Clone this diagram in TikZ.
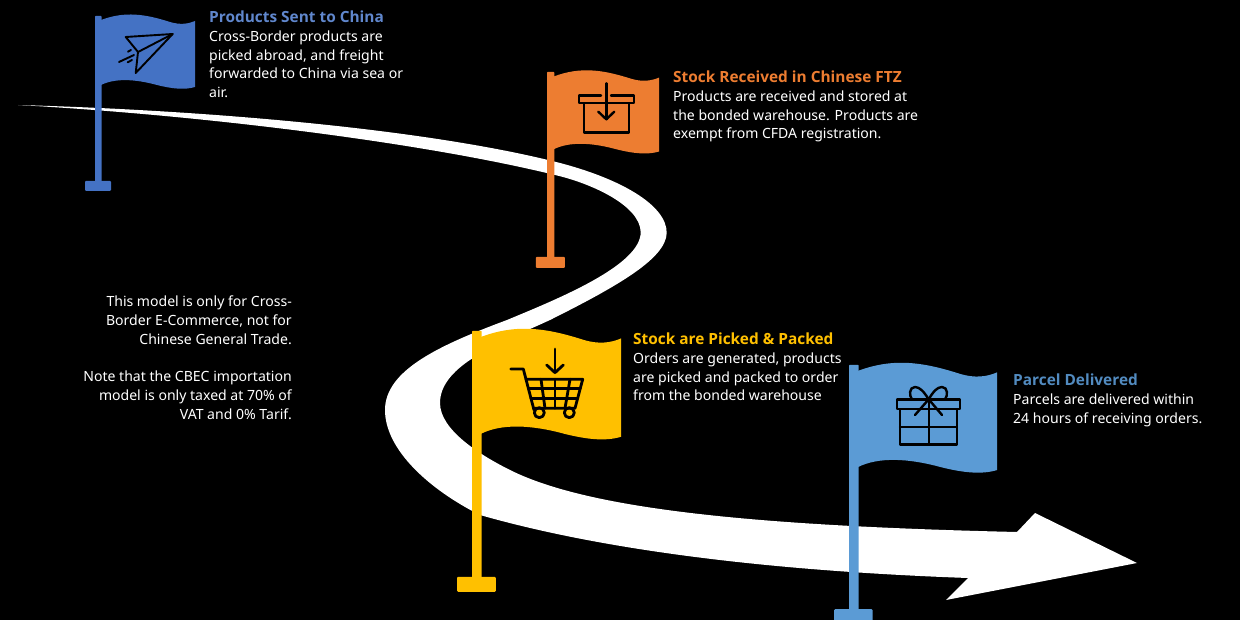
\documentclass[tikz,border=0pt]{standalone}
\usepackage{fontspec}
\setmainfont{Noto Sans}
\newfontfamily\titlefont{Open Sans}
\definecolor{flagblue}{HTML}{4472C4}
\definecolor{flagorange}{HTML}{ED7D31}
\definecolor{flagyellow}{HTML}{FFC000}
\definecolor{flagsky}{HTML}{5B9BD5}
\colorlet{titleblue}{flagblue!85!white}
\colorlet{titlesky}{flagsky!90!black}
\tikzset{
	flag/.pic={
		\fill[pic actions, rounded corners=0.6] (0,0) rectangle (6.5,168);
		\fill[pic actions, rounded corners=1] (-10,165) rectangle (16,175);
		\fill[pic actions] (6,4) .. controls (30,-5) and (50,-2) .. (75,6) .. controls (85,9) and (93,8) .. (100,5)
			-- (100,71) .. controls (90,74) and (78,73) .. (62,69) .. controls (40,63) and (20,62) .. (6,69) -- cycle;
	},
	infotext/.style={anchor=north west, inner sep=0pt, align=left, text=white, font=\fontsize{14.05}{18.8}\selectfont},
	notetext/.style={anchor=north east, inner sep=0pt, align=right, text=white, font=\fontsize{14.05}{18.8}\selectfont},
	titletext/.style={anchor=west, inner sep=0pt, font=\titlefont\bfseries\fontsize{15.4}{18}\selectfont},
	icon/.style={draw=black, line width=2.4pt, line join=round, line cap=round},
}
\begin{document}
\begin{tikzpicture}[x=1pt, y=-1pt]
	\useasboundingbox (0,0) rectangle (1240,620);
	\fill[black] (0,0) rectangle (1240,620);
	\clip (0,0) rectangle (1240,620);

	% road
	\fill[white] (18,105) .. controls (200,110) and (420,128) .. (555,161.7)
		.. controls (620,178) and (667,205) .. (666.7,233)
		.. controls (666,258) and (620,285) .. (550,320)
		.. controls (500,343) and (440,365) .. (440,403)
		.. controls (440,430) and (480,455) .. (510,470)
		.. controls (590,510) and (760,526) .. (1017,532)
		-- (1035,513) -- (1137,563) -- (946,600) -- (968,578)
		.. controls (800,572) and (620,555) .. (480,515)
		.. controls (430,490) and (385,450) .. (385,410)
		.. controls (385,370) and (440,345) .. (507,320)
		.. controls (560,298) and (641,265) .. (640.7,232)
		.. controls (640,205) and (590,183) .. (555,175)
		.. controls (420,142) and (200,115) .. (18,105) -- cycle;

	% flags
	\pic[fill=flagblue] at (95,16) {flag};
	\pic[fill=flagorange, scale=1.12] at (547,72) {flag};
	\pic[fill=flagyellow, scale=1.49] at (472,331) {flag};
	\pic[fill=flagsky, scale=1.48] at (849,365) {flag};

	% paper plane
	\begin{scope}[icon/.append style={line width=1.9pt}]
		\draw[icon] (125.7,37) -- (172.7,34) -- (135.7,73) -- (138,52) -- cycle;
		\draw[icon] (172.7,34) -- (138,52);
		\draw[icon] (119,62) -- (134,55);
		\draw[icon] (127.7,62.3) -- (132,60);
		\draw[icon] (128,51.7) -- (131,50);
	\end{scope}

	% box
	\draw[icon] (601,95.7) -- (579,95.7) -- (579,103.3) -- (634,103.3) -- (634,95.7) -- (611,95.7);
	\draw[icon] (584,103.3) -- (584,132.7) -- (628.7,132.7) -- (628.7,103.3);
	\draw[icon] (606.3,83.3) -- (606.3,119.3);
	\draw[icon] (598.3,111.7) -- (606.3,119.3) -- (614.3,111.7);

	% cart
	\begin{scope}[icon/.append style={line width=2.8pt}]
		\draw[icon] (510.7,369) -- (523.3,369) -- (534,410);
		\draw[icon] (526,379.3) -- (582.7,379.3) -- (575,408.3) -- (534,408.3);
		\draw[icon] (541,379.3) -- (545,408.3);
		\draw[icon] (555,379.3) -- (555,408.3);
		\draw[icon] (570,379.3) -- (565,408.3);
		\draw[icon] (528.5,388.5) -- (580.3,388.5);
		\draw[icon] (531,398.5) -- (577.7,398.5);
		\draw[icon] (539.3,412.7) circle (5);
		\draw[icon] (569.3,412.7) circle (5);
		\draw[icon] (555,349) -- (555,372.7);
		\draw[icon] (546.7,365) -- (555,372.7) -- (563.3,365);
	\end{scope}

	% gift
	\draw[icon] (896.7,399.3) rectangle (960,409);
	\draw[icon] (900,409) rectangle (956.7,444.3);
	\draw[icon] (928.7,399.3) -- (928.7,444.3);
	\draw[icon] (900,426.7) -- (956.7,426.7);
	\draw[icon] (928.7,399.3) .. controls (924,392) and (920,387) .. (915,387) .. controls (909,387) and (909,396) .. (912,399.3);
	\draw[icon] (928.7,399.3) .. controls (933,392) and (937,387) .. (942,387) .. controls (948,387) and (948,396) .. (945,399.3);
	\draw[icon] (928.7,399.3) -- (915,415);
	\draw[icon] (928.7,399.3) -- (942,415);

	\node[titletext, text=titleblue] (sentTitle) at (209,17) {Products Sent to China};
	\node[infotext] (sentText) at (209,30.5) {Cross-Border products are\\picked abroad, and freight\\forwarded to China via sea or\\air.};
	\node[titletext, text=flagorange] (stockTitle) at (673,77) {Stock Received in Chinese FTZ};
	\node[infotext] (stockText) at (673,90.5) {Products are received and stored at\\the bonded warehouse. Products are\\exempt from CFDA registration.};
	\node[titletext, text=flagyellow] (packedTitle) at (633,339) {Stock are Picked \& Packed};
	\node[infotext] (packedText) at (633,352.5) {Orders are generated, products\\are picked and packed to order\\from the bonded warehouse};
	\node[titletext, text=titlesky] (parcelTitle) at (1013,380) {Parcel Delivered};
	\node[infotext] (parcelText) at (1013,393.5) {Parcels are delivered within\\24 hours of receiving orders.};
	\node[notetext] (noteText) at (292,295.5) {This model is only for Cross-\\Border E-Commerce, not for\\Chinese General Trade.\\[18.8pt]Note that the CBEC importation\\model is only taxed at 70\% of\\VAT and 0\% Tarif.};
\end{tikzpicture}
\end{document}
